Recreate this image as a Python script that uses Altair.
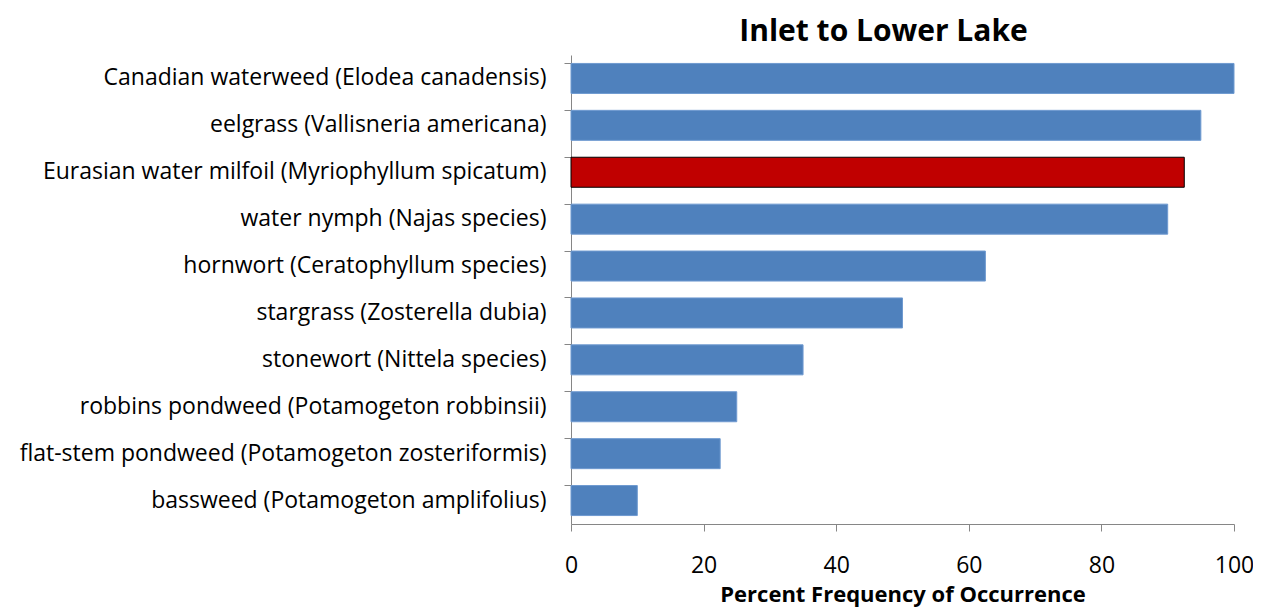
import altair as alt
import pandas as pd

species = [
    "Canadian waterweed (Elodea canadensis)",
    "eelgrass (Vallisneria americana)",
    "Eurasian water milfoil (Myriophyllum spicatum)",
    "water nymph (Najas species)",
    "hornwort (Ceratophyllum species)",
    "stargrass (Zosterella dubia)",
    "stonewort (Nittela species)",
    "robbins pondweed (Potamogeton robbinsii)",
    "flat-stem pondweed (Potamogeton zosteriformis)",
    "bassweed (Potamogeton amplifolius)",
]
values = [100, 95, 92.5, 90, 62.5, 50, 35, 25, 22.5, 10]
invasive = [False, False, True, False, False, False, False, False, False, False]

df = pd.DataFrame({"species": species, "value": values, "invasive": invasive})

font = "Open Sans"

bars = alt.Chart(df).mark_bar(strokeWidth=1).encode(
    y=alt.Y("species:N", sort=species, title=None,
            scale=alt.Scale(paddingInner=0.36, paddingOuter=0.18),
            axis=alt.Axis(labelFontSize=23, labelFont=font, labelColor="#000000",
                          labelPadding=18, tickSize=7, tickColor="#868686",
                          domainColor="#868686", bandPosition=0, labelLimit=600,
                          grid=False)),
    x=alt.X("value:Q", title="Percent Frequency of Occurrence",
            scale=alt.Scale(domain=[0, 100], nice=False),
            axis=alt.Axis(values=[0, 20, 40, 60, 80, 100], labelFontSize=23,
                          labelFont=font, labelColor="#000000", labelPadding=23,
                          labelFlush=False,
                          tickSize=7, tickColor="#868686", domainColor="#868686",
                          grid=False, titleFont=font, titleFontSize=22,
                          titleFontWeight="bold", titleColor="#000000",
                          titlePadding=7)),
    color=alt.condition(alt.datum.invasive, alt.value("#C00000"), alt.value("#4F81BD")),
    stroke=alt.condition(alt.datum.invasive, alt.value("#000000"), alt.value("#6F9AD0")),
)

chart = bars.properties(
    width=663, height=469,
    title=alt.TitleParams("Inlet to Lower Lake", font=font, fontSize=30,
                          fontWeight="bold", color="#000000", anchor="middle",
                          dx=-19, offset=8),
    autosize=alt.AutoSizeParams(type="none"),
    padding={"left": 563, "top": 47, "right": 19, "bottom": 88},
).configure_view(stroke=None)

chart.save("out.html", embed_options={"renderer": "svg", "actions": False})
